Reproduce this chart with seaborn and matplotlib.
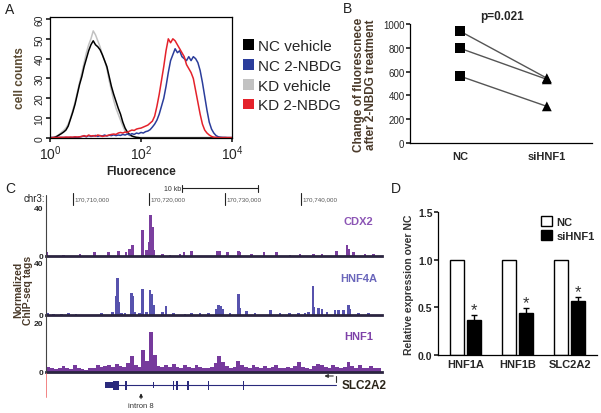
import numpy as np
import pandas as pd
import matplotlib
matplotlib.use("Agg")
import matplotlib.pyplot as plt
import seaborn as sns
from matplotlib.lines import Line2D
from matplotlib.patches import Patch

W, H = 601, 414

# ---------------- data ----------------
# A: flow cytometry histograms, counts on a log10 fluorescence grid (0.05 steps)
log_fluor = np.round(np.arange(0, 4.001, 0.05), 2)
nc_vehicle = [0, 0, 0.3, 0.8, 1.5, 2.2, 3.0, 4.0, 6, 9.5,
              13, 17, 22, 27, 31, 36, 40, 44, 47, 49,
              47, 46, 44.5, 42, 39, 36, 31, 26, 22, 18.5,
              15, 12, 8, 5, 3, 1.8, 1, 0.6, 0.3, 0.2,
              0, 0, 0, 0, 0, 0, 0, 0, 0, 0,
              0, 0, 0, 0, 0, 0, 0, 0, 0, 0,
              0, 0, 0, 0, 0, 0, 0, 0, 0, 0,
              0, 0, 0, 0, 0, 0, 0, 0, 0, 0, 0]
kd_vehicle = [0, 0.2, 0.5, 1.0, 1.8, 2.8, 3.8, 5, 7, 10,
              14, 18, 23, 28, 33, 38, 43, 47, 50, 54,
              52, 49, 46, 42, 39, 35, 29, 24, 19, 15,
              12, 9, 6, 3.5, 2, 1.2, 0.8, 0.5, 0.4, 0.3,
              0.3, 0.3, 0.3, 0.3, 0.3, 0.3, 0.3, 0.3, 0.3, 0.3,
              0.3, 0.3, 0.3, 0.3, 0.3, 0.3, 0.3, 0.3, 0.3, 0.3,
              0.3, 0.3, 0.3, 0.3, 0.3, 0.3, 0.3, 0.3, 0.3, 0.3,
              0.3, 0.3, 0.3, 0.3, 0.3, 0.3, 0.3, 0.3, 0.3, 0.3, 0.3]
nc_2nbdg = [0.3, 0.3, 0.2, 0.2, 0.3, 0.2, 0.3, 0.2, 0.3, 0.2,
            0.3, 0.4, 0.3, 0.5, 0.8, 1.0, 0.6, 1.2, 0.8, 1.0,
            1.3, 0.8, 1.2, 1.0, 1.5, 1.0, 1.4, 1.2, 1.6, 1.2,
            1.5, 1.3, 1.8, 1.5, 2.0, 1.6, 2.2, 1.8, 2.5, 2.2,
            2.8, 2.5, 3.2, 3.5, 4.2, 5.5, 7, 9, 12, 16,
            20, 26, 33, 39, 42, 45, 43, 44, 41, 40,
            39, 41, 39, 41, 40, 38, 34, 28, 21, 14,
            8, 4.5, 2.5, 1.2, 0.6, 0.4, 0.3, 0.3, 0.2, 0.2, 0.2]
kd_2nbdg = [0.2, 0.2, 0.3, 0.2, 0.3, 0.4, 0.3, 0.5, 0.4, 0.5,
            0.4, 0.6, 0.5, 0.6, 0.8, 1.2, 0.8, 1.5, 1.0, 1.2,
            0.9, 1.5, 1.2, 0.8, 1.0, 1.2, 1.5, 1.8, 2.0, 1.8,
            2.5, 2.8, 2.5, 3.0, 2.8, 3.5, 4.0, 3.8, 4.5, 4.8,
            5.0, 5.5, 6.0, 6.5, 7.5, 8.5, 11, 16, 22, 29,
            36, 44, 50, 48, 50, 49, 47, 45, 43, 41,
            37, 35, 33, 30, 24, 18, 12, 7, 4, 2.5,
            1.5, 0.8, 0.4, 0.3, 0.2, 0.2, 0.2, 0.2, 0.2, 0.2, 0.2]
series_A = ["NC vehicle", "NC 2-NBDG", "KD vehicle", "KD 2-NBDG"]
colors_A = {"NC vehicle": "#000000", "NC 2-NBDG": "#2b3d9b",
            "KD vehicle": "#c2c2c2", "KD 2-NBDG": "#e4222b"}

# B: change of fluorescence, paired samples
groups_B = ["NC", "siHNF1"]
nc_change = [940, 796, 562]
si_change = [545, 535, 308]

# C: ChIP-seq tracks, positions in kb after chr3:170,700,000
chr_start = 170700000
ruler_kb = [10, 20, 30, 40]
cdx2_pos = [6.54, 8.73, 10.92, 12.81, 14.65, 16.01, 16.97, 17.41, 17.81, 19.17,
            19.69, 20.04, 20.22, 20.44, 20.66, 21.75, 22.76, 24.08, 24.61, 25.61,
            28.99, 29.34, 30.31, 31.75, 31.97, 33.51, 35.13, 36.80, 38.55, 39.87,
            41.62, 42.72, 44.69, 46.01, 46.23, 46.89, 48.42, 49.52]
cdx2_tags = [3, 1, 1.5, 3.5, 3, 4, 3, 5.5, 9, 22,
             5, 12, 34.5, 24.5, 5, 2, 1, 2, 3, 4.5,
             4.5, 4, 3, 4.5, 3, 1.5, 3, 3, 1, 1.5,
             1.5, 2, 4, 9, 6, 3, 2, 1.5]
hnf4a_pos = [6.75, 7.41, 8.51, 9.39, 10.39, 13.77, 15.22, 15.75, 15.88, 16.05,
             16.40, 16.84, 17.72, 17.85, 18.16, 18.73, 19.17, 19.69, 20.13, 20.35,
             20.57, 21.75, 22.24, 23.20, 24.74, 25.61, 26.71, 27.81, 28.82, 29.12,
             29.43, 29.69, 30.66, 31.67, 31.80, 31.97, 32.85, 33.95, 36.01, 37.24,
             38.46, 39.65, 40.53, 40.96, 41.54, 41.71, 42.28, 42.72, 43.38, 44.47,
             44.91, 45.57, 46.23, 46.45, 47.54, 48.86]
hnf4a_tags = [1.2, 1.0, 1.0, 1.2, 0.8, 1.7, 2.0, 15, 28.5, 10,
              1.5, 1.2, 17, 15, 2.5, 1.2, 20, 2.5, 19.5, 16.5,
              8, 2.5, 6.8, 1.2, 1.0, 1.2, 1.5, 1.5, 5, 8,
              7, 4.5, 1.2, 8, 16.2, 5.5, 3, 1.2, 3.8, 1.2,
              1.2, 1.2, 1.2, 2, 22, 6.2, 5.5, 5, 2, 4.2,
              4, 4, 8, 5, 1.2, 1.2]
hnf1_bin_start = np.arange(6.5, 50.5, 0.5)
hnf1_tags = [2.0, 1.5, 1.2, 1.8, 2.5, 1.5, 1.2, 2.8, 1.5, 1.2,
             1.0, 1.5, 1.8, 3.0, 2.2, 2.5, 2.8, 2.0, 3.2, 2.5,
             2.0, 3.5, 6.5, 3.0, 2.0, 9.0, 4.5, 16.0, 7.0, 2.5,
             2.0, 2.8, 2.0, 3.2, 2.0, 1.8, 2.8, 2.0, 1.5, 2.8,
             2.0, 1.5, 1.8, 2.0, 3.5, 6.5, 4.0, 2.5, 1.8, 2.0,
             4.5, 3.0, 2.0, 1.5, 2.8, 2.0, 1.5, 2.5, 1.5, 2.0,
             3.0, 1.8, 1.5, 2.0, 1.5, 2.5, 4.0, 2.0, 1.5, 1.2,
             2.5, 3.2, 2.8, 2.0, 1.8, 2.8, 2.0, 1.5, 2.2, 4.0,
             2.5, 1.8, 2.8, 1.5, 1.8, 2.5, 1.8, 1.5]
# SLC2A2 gene model (kb)
exon_start = [14.2, 15.3, 16.9, 20.5, 23.1, 23.6, 25.05, 27.7, 32.3, 36.3, 44.55]
exon_end = [15.3, 16.0, 17.1, 20.6, 23.25, 23.75, 25.2, 27.85, 32.45, 36.36, 44.65]
exon_kind = ["utr", "cds", "cds", "thin", "cds", "cds", "cds", "cds", "cds", "thin", "thin"]
intron8_kb = 18.95

# D: qPCR relative expression
genes_D = ["HNF1A", "HNF1B", "SLC2A2"]
nc_expr = [1.0, 1.0, 1.0]
si_expr = [0.37, 0.44, 0.57]
si_err = [0.05, 0.05, 0.035]

# ---------------- figure ----------------
sns.set_theme(style="white")
plt.rcParams["font.family"] = ["Liberation Sans", "DejaVu Sans"]
plt.rcParams["axes.linewidth"] = 0.9
plt.rcParams["axes.edgecolor"] = "black"

fig = plt.figure(figsize=(W / 100, H / 100), dpi=100)


def px_axes(x0, y0, x1, y1):
    return fig.add_axes([x0 / W, 1 - y1 / H, (x1 - x0) / W, (y1 - y0) / H])


def fpos(x, y):
    return x / W, 1 - y / H


for letter, x, y in [("A", 10, 10), ("B", 348, 9), ("C", 10, 189), ("D", 396, 189)]:
    fig.text(*fpos(x, y), letter, fontsize=10, color="#222222", ha="center", va="center")

# ---- A
axA = px_axes(50, 18, 232, 139)
dfA = pd.DataFrame({"fluor": 10 ** log_fluor, "NC vehicle": nc_vehicle, "NC 2-NBDG": nc_2nbdg,
                    "KD vehicle": kd_vehicle, "KD 2-NBDG": kd_2nbdg})
for name in ["KD vehicle", "NC vehicle", "NC 2-NBDG", "KD 2-NBDG"]:
    sns.lineplot(data=dfA, x="fluor", y=name, ax=axA, color=colors_A[name], lw=1.1)
axA.set_xscale("log")
axA.set_xlim(1, 1e4)
axA.set_ylim(0, 61)
axA.set_yticks(range(0, 61, 10))
axA.tick_params(axis="y", labelsize=7.5, length=3, pad=1, left=True, labelrotation=90)
axA.tick_params(axis="x", which="major", labelsize=10, length=3, pad=1, bottom=True)
axA.tick_params(axis="x", which="minor", length=1.5, bottom=True)
for lab in axA.get_yticklabels():
    lab.set_va("center")
axA.set_xlabel("Fluorecence", fontsize=8.5, fontweight="bold", labelpad=2)
axA.set_ylabel("cell counts", fontsize=8.5, fontweight="bold", color="#5a4a32", labelpad=6)
handlesA = [Patch(facecolor=colors_A[n], edgecolor="none") for n in series_A]
fig.legend(handlesA, series_A, loc="upper left", bbox_to_anchor=fpos(243, 40), frameon=False,
           fontsize=11, handlelength=0.7, handleheight=0.7, labelspacing=0.38, handletextpad=0.25,
           borderaxespad=0, borderpad=0)

# ---- B
axB = px_axes(410, 25, 592, 144)
dfB = pd.DataFrame({"pair": [1, 2, 3] * 2,
                    "group": [groups_B[0]] * 3 + [groups_B[1]] * 3,
                    "value": nc_change + si_change})
sns.lineplot(data=dfB, x="group", y="value", units="pair", estimator=None,
             color="#555555", lw=1, ax=axB)
sns.scatterplot(data=dfB, x="group", y="value", style="group",
                markers={"NC": "s", "siHNF1": "^"}, color="black", s=50,
                linewidth=0, ax=axB, legend=False, zorder=3, clip_on=False)
axB.set_xlim(-0.575, 1.52)
axB.set_ylim(0, 1000)
axB.set_yticks(range(0, 1001, 200))
sns.despine(ax=axB)
axB.tick_params(axis="y", labelsize=7, length=3, pad=1, left=True)
axB.tick_params(axis="x", labelsize=8, length=0, pad=6)
for lab in axB.get_xticklabels():
    lab.set_fontweight("bold")
axB.set_xlabel("")
axB.set_ylabel("Change of fluorescnece\nafter 2-NBDG treatment", fontsize=8.5,
               fontweight="bold", color="#4a3a2a", labelpad=4, linespacing=1.0)
fig.text(*fpos(502, 17), "p=0.021", fontsize=8.5, fontweight="bold", ha="center", va="center")

# ---- C
kb_lim = (6.45, 50.65)
track_col = {"CDX2": "#7b3f9f", "HNF4A": "#5752ad", "HNF1": "#763a9c"}
label_col = {"CDX2": "#8c55b5", "HNF4A": "#6a66bb", "HNF1": "#7d40a8"}

axR = px_axes(46, 185, 382, 207)
axR.set_xlim(*kb_lim)
axR.set_ylim(0, 1)
axR.axis("off")
for kb in ruler_kb:
    axR.plot([kb, kb], [0.05, 0.6], color="#222222", lw=0.8)
    axR.text(kb + 0.25, 0.32, f"{chr_start + kb * 1000:,}", fontsize=4.5, color="#555555",
             va="center", ha="left")
axR.plot([24.4, 34.4], [0.8, 0.8], color="#222222", lw=0.8)
axR.plot([24.4, 24.4], [0.65, 0.95], color="#222222", lw=0.8)
axR.plot([34.4, 34.4], [0.65, 0.95], color="#222222", lw=0.8)
axR.text(24.2, 0.8, "10 kb", fontsize=5, ha="right", va="center", color="#333333")
fig.text(*fpos(45, 199), "chr3:", fontsize=7, ha="right", va="center", color="#222222")

tracks = [("CDX2", 209, 257, 40, cdx2_pos, cdx2_tags, 0.32),
          ("HNF4A", 264, 316, 40, hnf4a_pos, hnf4a_tags, 0.32),
          ("HNF1", 323, 373, 20, hnf1_bin_start + 0.25, hnf1_tags, 0.5)]
for name, top, bot, ymax, pos, tags, w in tracks:
    ax = px_axes(46, top, 382, bot)
    ax.bar(pos, tags, width=w, color=track_col[name], linewidth=0)
    ax.set_xlim(*kb_lim)
    ax.set_ylim(0, ymax)
    ax.set_xticks([])
    ax.set_yticks([0, ymax])
    ax.tick_params(axis="y", length=0, labelsize=6, pad=2)
    for lab in ax.get_yticklabels():
        lab.set_fontweight("bold")
    for s in ["top", "right", "left"]:
        ax.spines[s].set_visible(False)
    ax.spines["bottom"].set_linewidth(2.0)
    ax.spines["bottom"].set_color("#2b2540")
    ax.patch.set_alpha(0)
    ax.text(0.93, 0.72, name, transform=ax.transAxes, color=label_col[name], fontsize=8,
            fontweight="bold", ha="center", va="center")
fig.add_artist(Line2D([46 / W, 46 / W], [1 - 196 / H, 1 - 373 / H], color="#444444", lw=0.8))
fig.add_artist(Line2D([46 / W, 46 / W], [1 - 374 / H, 1 - 398 / H], color="#f07070", lw=0.6))
fig.text(*fpos(23, 290), "Normalized\nChIP-seq tags", rotation=90, fontsize=7.5, fontweight="bold",
         color="#4a3a2a", ha="center", va="center", multialignment="center", linespacing=1.0)

axG = px_axes(46, 376, 382, 396)
axG.set_xlim(*kb_lim)
axG.set_ylim(-1, 1)
axG.axis("off")
gene_col = "#2a2a7c"
axG.plot([exon_start[0], exon_end[-1]], [0, 0], color=gene_col, lw=0.8)
kind_h = {"utr": 0.3, "cds": 0.45, "thin": 0.3}
for s, e, k in zip(exon_start, exon_end, exon_kind):
    h = kind_h[k]
    axG.bar(s, 2 * h, width=e - s, bottom=-h, align="edge", color=gene_col, linewidth=0)
axG.plot([44.6, 44.6], [0.35, 0.9], color="#333333", lw=0.8, clip_on=False)
axG.annotate("", xy=(42.7, 0.9), xytext=(44.6, 0.9),
             arrowprops=dict(arrowstyle="-|>", lw=0.8, color="#333333", mutation_scale=5),
             annotation_clip=False)
axG.text(45.3, 0, "SLC2A2", fontsize=8.5, fontweight="bold", va="center", ha="left", color="#2a2418")
axG.annotate("", xy=(intron8_kb, -0.55), xytext=(intron8_kb, -1.65),
             arrowprops=dict(arrowstyle="-|>", lw=0.7, color="#222222", mutation_scale=5),
             annotation_clip=False)
axG.text(intron8_kb, -2.1, "intron 8", fontsize=5.5, ha="center", va="center", color="#333333")

# ---- D
axD = px_axes(438, 213, 597, 356)
dfD = pd.DataFrame({"gene": genes_D * 2,
                    "condition": ["NC"] * 3 + ["siHNF1"] * 3,
                    "value": nc_expr + si_expr})
sns.barplot(data=dfD, x="gene", y="value", hue="condition",
            palette={"NC": "white", "siHNF1": "black"}, edgecolor="black", linewidth=1,
            width=0.64, gap=0.17, errorbar=None, ax=axD)
for bar, err in zip(axD.containers[1], si_err):
    xc = bar.get_x() + bar.get_width() / 2
    top = bar.get_height()
    axD.errorbar(xc, top, yerr=err, color="black", capsize=2.5, lw=1, capthick=1)
    axD.text(xc, top + err + 0.06, "*", ha="center", va="center", fontsize=12, color="#333333")
axD.set_xlim(-0.52, 2.52)
axD.set_ylim(0, 1.5)
axD.set_yticks([0, 0.5, 1.0, 1.5])
axD.set_yticklabels(["0.0", "0.5", "1.0", "1.5"])
sns.despine(ax=axD)
axD.tick_params(axis="y", labelsize=7.5, length=3, pad=1, left=True)
axD.tick_params(axis="x", labelsize=8, length=0, pad=3)
for lab in axD.get_xticklabels() + axD.get_yticklabels():
    lab.set_fontweight("bold")
axD.set_xlabel("")
axD.set_ylabel("Relative expression over NC", fontsize=7.5, fontweight="bold", color="#333333",
               labelpad=3)
hD, lD = axD.get_legend_handles_labels()
axD.legend(hD, lD, loc="upper left", bbox_to_anchor=fpos(541, 217), bbox_transform=fig.transFigure,
           frameon=False, prop={"size": 8, "weight": "bold"}, handlelength=1.0, handleheight=1.0,
           labelspacing=0.3, handletextpad=0.4, borderaxespad=0, borderpad=0)

fig.savefig("out.png", dpi=100)
